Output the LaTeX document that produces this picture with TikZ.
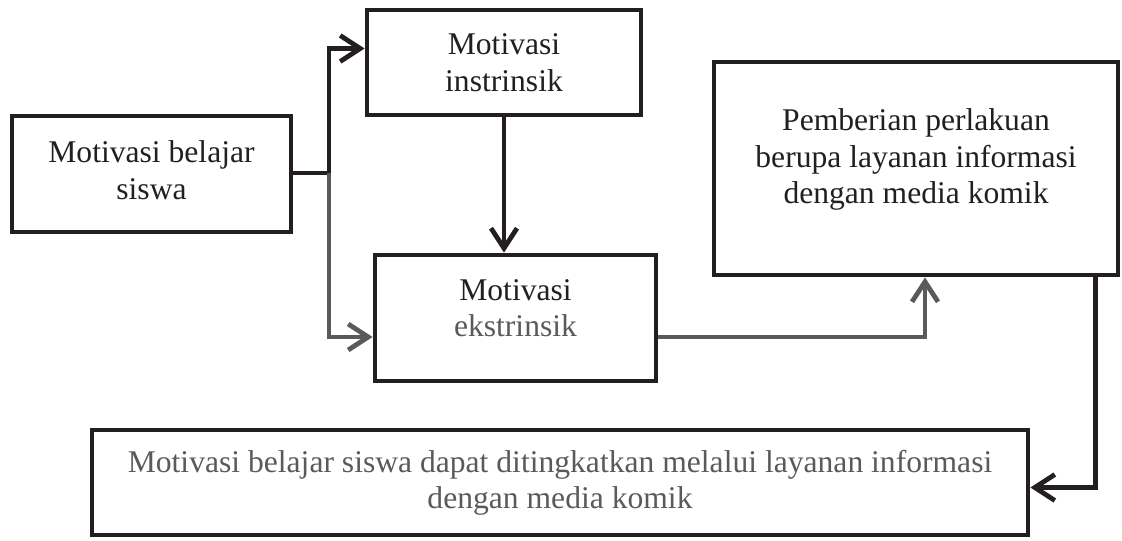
\documentclass[tikz,border=0pt]{standalone}
\usepackage{fontspec}
\setmainfont{Liberation Serif}
\usepackage{tikz}
\usetikzlibrary{arrows.meta, positioning}
\definecolor{INK}{HTML}{231F20}
\definecolor{DIM}{HTML}{5A5A5A}
\tikzset{
  BOX/.style={% Style for the frame boxes
      rectangle, line width=2.4pt,
      draw=INK,
      align=center,
      text=INK,
      inner sep=0pt,
      font=\fontsize{15.8}{18.2}\selectfont,
  },
  TXT/.style={% Style for text set over an empty box
      align=center,
      inner sep=0pt,
      text=INK,
      font=\fontsize{15.8}{18.2}\selectfont,
  },
  LIN/.style={line width=2.4pt, draw=INK},
  ARR/.style={LIN, -{Straight Barb[length=10pt, width=13pt]}},
}

\begin{document}
\begin{tikzpicture}[x=0.5pt, y=-0.5pt]
    \useasboundingbox (0,0) rectangle (1122,540);
    % boxes
    \node[BOX, minimum width=139.5pt, minimum height=58pt] (awal) at (151.5,174) {}; 
    \node[TXT] (awal-t) at ([yshift=2pt]awal.center) {Motivasi belajar\\siswa};
    \node[BOX, minimum width=137pt, minimum height=52.5pt] (intr) at (504,62.5) {Motivasi\\instrinsik};
    \node[BOX, minimum width=140.5pt, minimum height=63pt] (ekstr) at (515.5,318) {};
    \node[TXT] (ekstr-t) at ([yshift=5pt]ekstr.center) {Motivasi\\\textcolor{DIM}{ekstrinsik}};
    \node[BOX, minimum width=202pt, minimum height=106.5pt] (perlakuan) at (916,168.5) {};
    \node[TXT] (perlakuan-t) at ([yshift=4.5pt]perlakuan.center) {Pemberian perlakuan\\berupa layanan informasi\\dengan media komik};
    \node[BOX, minimum width=468pt, minimum height=52.5pt, text=DIM] (hasil) at (560,482.5) {Motivasi belajar siswa dapat ditingkatkan melalui layanan informasi\\dengan media komik};
    % connectors
    \coordinate (split) at (329,173);
    \draw[LIN] (awal.east |- split) -- (split);
    \draw[ARR] (split) |- ([yshift=7pt]intr.west);
    \draw[ARR, draw=DIM] (split) |- ([yshift=-9.5pt]ekstr.west);
    \draw[ARR] (intr.south) -- (intr.south |- ekstr.north);
    \draw[ARR, draw=DIM] ([yshift=-9.5pt]ekstr.east) -| ([xshift=4.5pt]perlakuan.south);
    \draw[ARR] ([xshift=-12.5pt]perlakuan.south east) |- ([yshift=-2.5pt]hasil.east);
\end{tikzpicture}
\end{document}
